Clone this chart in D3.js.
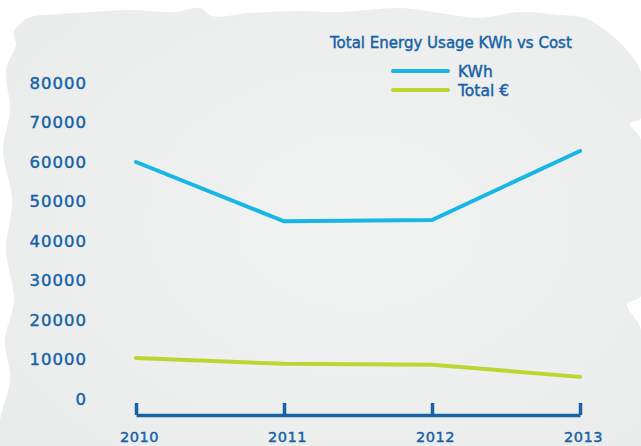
<!DOCTYPE html>
<html>
<head>
<meta charset="utf-8">
<script src="https://cdn.jsdelivr.net/npm/d3@7"></script>
<style>
  html, body { margin: 0; padding: 0; background: #fff; }
  svg { display: block; font-family: "DejaVu Sans", sans-serif; }
  text { stroke: #1763a6; stroke-width: 0.45px; }
</style>
</head>
<body>
<svg id="chart" width="641" height="446"></svg>
<script>
// --- Data ---

const years = ['2010', '2011', '2012', '2013'];
const kwhValues = [60000, 45000, 45300, 62800];
const costValues = [10400, 8900, 8700, 5600];
const yTicks = [0, 10000, 20000, 30000, 40000, 50000, 60000, 70000, 80000];
const seriesNames = ['KWh', 'Total €'];
const seriesColors = ['#17b6e4', '#bdd531'];

const blue = '#1763a6';

const svg = d3.select('#chart');

// --- Background (rough painted patch) ---

const defs = svg.append('defs');
const grad = defs.append('radialGradient').attr('id', 'bg').attr('cx', '55%').attr('cy', '45%').attr('r', '70%');
grad.append('stop').attr('offset', '0%').attr('stop-color', '#f1f2f2');
grad.append('stop').attr('offset', '100%').attr('stop-color', '#eaebeb');

const patch = [
  [14, 32], [28, 18], [60, 14], [90, 12], [130, 10], [175, 12], [200, 8], [212, 16], [250, 13],
  [300, 11], [340, 12], [400, 8], [440, 13], [480, 18], [520, 12], [560, 15], [585, 18],
  [605, 30], [625, 48], [641, 72], [641, 118], [630, 124], [641, 140], [641, 296], [627, 304],
  [641, 330], [641, 446], [0, 446], [0, 420], [10, 380], [5, 340], [14, 300], [6, 250],
  [12, 200], [3, 150], [10, 110], [6, 70], [16, 44]
];
svg.append('path')
  .attr('d', d3.line().curve(d3.curveCatmullRomClosed)(patch))
  .attr('fill', 'url(#bg)');

// --- Scales ---

const x = d3.scalePoint().domain(years).range([136, 580]);
const y = d3.scaleLinear().domain([0, 80000]).range([399, 83]);

// --- Y axis (labels only) ---

const yAxis = svg.append('g')
  .attr('transform', 'translate(87,0)')
  .call(d3.axisLeft(y).tickValues(yTicks).tickSize(0).tickPadding(0).tickFormat(d3.format('d')));
yAxis.select('.domain').remove();
yAxis.selectAll('text')
  .attr('fill', blue)
  .attr('font-size', 16.5)
  .attr('letter-spacing', 1)
  .attr('font-family', '"DejaVu Sans", sans-serif');

// --- X axis ---

const xAxis = svg.append('g')
  .attr('transform', 'translate(0,415)')
  .call(d3.axisBottom(x).tickSize(-12).tickSizeOuter(0).tickPadding(17));
xAxis.select('.domain').attr('stroke', blue).attr('stroke-width', 3.5);
xAxis.selectAll('.tick line').attr('stroke', blue).attr('stroke-width', 3.5);
xAxis.selectAll('text')
  .attr('fill', blue)
  .attr('font-size', 14.5)
  .attr('letter-spacing', 0.5)
  .attr('dx', 3)
  .attr('font-family', '"DejaVu Sans", sans-serif');

// --- Lines ---

const line = d3.line().x((d, i) => x(years[i])).y(d => y(d));

[kwhValues, costValues].forEach((vals, i) => {
  svg.append('path')
    .attr('d', line(vals))
    .attr('fill', 'none')
    .attr('stroke', seriesColors[i])
    .attr('stroke-width', 4)
    .attr('stroke-linecap', 'round');
});

// --- Title + legend ---

svg.append('text')
  .attr('x', 330)
  .attr('y', 48)
  .attr('fill', blue)
  .attr('font-size', 15)
  .text('Total Energy Usage KWh vs Cost');

const legend = svg.append('g');
seriesNames.forEach((name, i) => {
  const ly = 71 + i * 19;
  legend.append('line')
    .attr('x1', 393).attr('x2', 448)
    .attr('y1', ly).attr('y2', ly)
    .attr('stroke', seriesColors[i])
    .attr('stroke-width', 4)
    .attr('stroke-linecap', 'round');
  legend.append('text')
    .attr('x', 458)
    .attr('y', ly + 5.5)
    .attr('fill', blue)
    .attr('font-size', 15.5)
    .text(name);
});
</script>
</body>
</html>
